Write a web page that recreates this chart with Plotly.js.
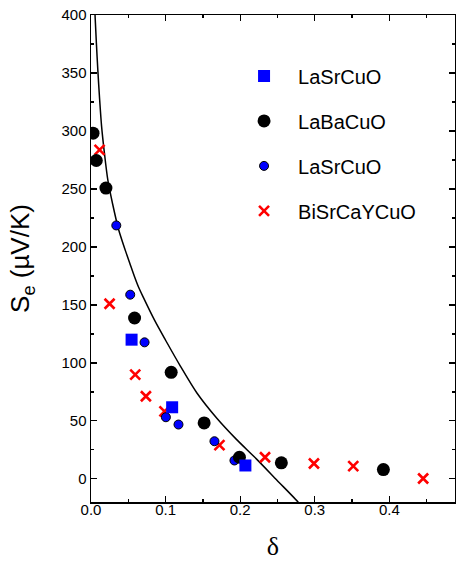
<!DOCTYPE html>
<html>
<head>
<meta charset="utf-8">
<script src="https://cdn.plot.ly/plotly-3.0.1.min.js"></script>
<style>
  html, body { margin: 0; padding: 0; background: #fff; }
  #chart { width: 456px; height: 575px; }
</style>
</head>
<body>
<div id="chart"></div>
<script>
// LaSrCuO (blue squares)
const lsco_sq_x = [0.0544, 0.1088, 0.207];
const lsco_sq_y = [120.0, 61.7, 11.5];

// LaBaCuO (black circles)
const lbco_x = [0.0027, 0.0071, 0.020, 0.0584, 0.1075, 0.1517, 0.199, 0.2552, 0.392];
const lbco_y = [298.1, 274.5, 250.7, 138.7, 91.8, 48.2, 18.6, 13.8, 8.0];

// LaSrCuO (small blue circles)
const lsco_c_x = [0.0339, 0.0526, 0.0718, 0.1004, 0.1173, 0.1655, 0.1923];
const lsco_c_y = [218.5, 158.8, 117.7, 53.1, 46.8, 32.4, 15.8];

// BiSrCaYCuO (red crosses)
const bscy_x = [0.0115, 0.0249, 0.0593, 0.0736, 0.0985, 0.1722, 0.2333, 0.2989, 0.3516, 0.4453];
const bscy_y = [283.7, 151.0, 89.9, 71.2, 58.2, 29.0, 18.6, 13.2, 10.9, 0.3];

// Solid curve
const curve_x = [0.0054, 0.0072, 0.0092, 0.0115, 0.0142, 0.0178, 0.0225, 0.029, 0.037, 0.046, 0.052, 0.058, 0.064, 0.0705, 0.085, 0.100, 0.120, 0.142, 0.169, 0.195, 0.222, 0.249, 0.2775, 0.2795];
const curve_y = [400, 376, 352, 328, 304, 282, 258, 237, 215, 197, 186, 175, 165, 156, 137, 119.5, 97, 74, 52, 34, 17, -1, -20, -22];

const legendNames = ['LaSrCuO', 'LaBaCuO', 'LaSrCuO', 'BiSrCaYCuO'];

const traces = [
  {
    x: curve_x, y: curve_y, type: 'scatter', mode: 'lines',
    line: {color: '#000000', width: 1.5, shape: 'spline', smoothing: 0.8},
    showlegend: false, hoverinfo: 'skip'
  },
  {
    x: bscy_x, y: bscy_y, type: 'scatter', mode: 'markers', name: legendNames[3],
    legendrank: 4, legendgroup: 'g4',
    marker: {symbol: 'x-thin', size: 10, color: '#ff0000', line: {color: '#ff0000', width: 2.6}}
  },
  {
    x: lsco_c_x, y: lsco_c_y, type: 'scatter', mode: 'markers', name: legendNames[2],
    legendrank: 3, legendgroup: 'g3',
    marker: {symbol: 'circle', size: 9, color: '#0000ff', line: {color: '#000000', width: 1}}
  },
  {
    x: lbco_x, y: lbco_y, type: 'scatter', mode: 'markers', name: legendNames[1],
    legendrank: 2, legendgroup: 'g2',
    marker: {symbol: 'circle', size: 13, color: '#000000'}
  },
  {
    x: lsco_sq_x, y: lsco_sq_y, type: 'scatter', mode: 'markers', name: legendNames[0],
    legendrank: 1, legendgroup: 'g1',
    marker: {symbol: 'square', size: 12, color: '#0000ff'}
  }
];

const axisCommon = {
  showline: true, linecolor: '#000', linewidth: 1.5, mirror: 'ticks',
  ticks: 'inside', ticklen: 6, tickwidth: 1.3, tickcolor: '#000',
  showgrid: false, zeroline: false,
  tickfont: {family: 'Liberation Sans, Arial, sans-serif', size: 15, color: '#000'}
};

const layout = {
  width: 456, height: 575,
  margin: {l: 91, r: 1, t: 15, b: 73},
  paper_bgcolor: '#fff', plot_bgcolor: '#fff',
  font: {family: 'Liberation Sans, Arial, sans-serif', color: '#000'},
  showlegend: true,
  legend: {
    x: 0.382, y: 0.915, xanchor: 'left', yanchor: 'top',
    bgcolor: 'rgba(0,0,0,0)', borderwidth: 0,
    font: {family: 'Liberation Sans, Arial, sans-serif', size: 20, color: '#000'},
    traceorder: 'grouped', tracegroupgap: 16, itemwidth: 58
  },
  xaxis: Object.assign({}, axisCommon, {
    range: [0, 0.488], dtick: 0.1, tick0: 0, tickformat: '.1f',
    ticklabelstandoff: -7,
    minor: {dtick: 0.05, ticks: 'inside', ticklen: 3, tickwidth: 1.3, tickcolor: '#000'},
    title: {text: 'δ', font: {family: 'Liberation Serif, DejaVu Serif, serif', size: 26, color: '#000'}, standoff: 20}
  }),
  yaxis: Object.assign({}, axisCommon, {
    range: [-20, 400], dtick: 50, tick0: 0,
    minor: {dtick: 25, ticks: 'inside', ticklen: 3, tickwidth: 1.3, tickcolor: '#000'},
    title: {text: 'S<sub>e</sub> (µV/K)', font: {family: 'Liberation Sans, Arial, sans-serif', size: 26, color: '#000'}, standoff: 24}
  })
};

Plotly.newPlot('chart', traces, layout, {displayModeBar: false, staticPlot: true});
</script>
</body>
</html>
